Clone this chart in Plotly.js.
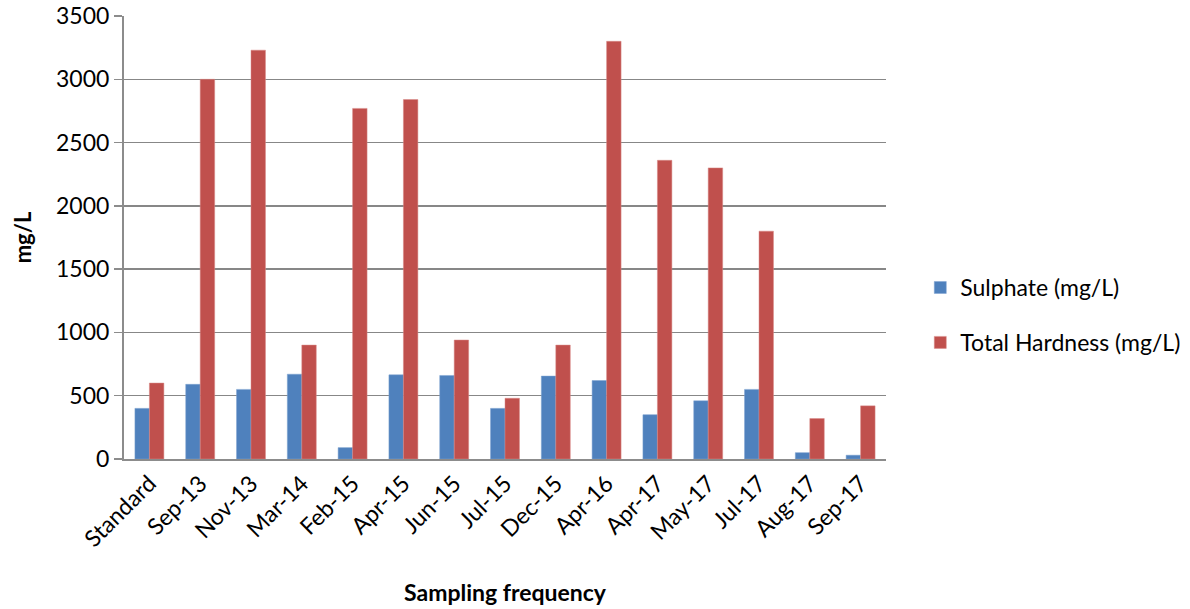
<!DOCTYPE html>
<html>
<head>
<meta charset="utf-8">
<script src="https://cdn.plot.ly/plotly-3.0.1.min.js"></script>
<style>html,body{margin:0;padding:0;background:#fff;}#chart{width:1190px;height:609px;}</style>
</head>
<body>
<div id="chart"></div>
<script>
var categories = ["Standard","Sep-13","Nov-13","Mar-14","Feb-15","Apr-15","Jun-15","Jul-15","Dec-15","Apr-16","Apr-17","May-17","Jul-17","Aug-17","Sep-17"];
var sulphate = [400, 590, 550, 670, 90, 665, 660, 400, 655, 620, 350, 460, 550, 50, 30];
var hardness = [600, 3000, 3230, 900, 2770, 2840, 940, 480, 900, 3300, 2360, 2300, 1800, 320, 420];
var yTicks = [0, 500, 1000, 1500, 2000, 2500, 3000, 3500];

var fontFam = "Lato, 'Open Sans', sans-serif";
var traces = [
  {type: "bar", name: "Sulphate (mg/L)", x: categories, y: sulphate, legendgroup: "a",
   marker: {color: "#4F81BD", line: {color: "#7FA3D1", width: 0.5}}},
  {type: "bar", name: "Total Hardness (mg/L)", x: categories, y: hardness, legendgroup: "b",
   marker: {color: "#C0504D", line: {color: "#D88A88", width: 0.5}}}
];
var layout = {
  width: 1190, height: 609,
  margin: {l: 124, r: 304, t: 16, b: 150, autoexpand: false},
  paper_bgcolor: "#ffffff", plot_bgcolor: "#ffffff",
  barmode: "group", bargap: 0.43, bargroupgap: 0,
  font: {family: fontFam, color: "#000", size: 23},
  xaxis: {
    type: "category", tickangle: -45, tickfont: {size: 23, family: fontFam},
    showline: true, linecolor: "#8c8c8c", linewidth: 2, ticks: "", showgrid: false,
    title: {text: "<b>Sampling frequency</b>", font: {size: 23, family: fontFam}, standoff: 34}
  },
  yaxis: {
    range: [0, 3500], tickvals: yTicks, ticktext: yTicks.map(String),
    tickfont: {size: 23, family: fontFam},
    showgrid: true, gridcolor: "#878787", gridwidth: 1.5,
    showline: true, linecolor: "#8c8c8c", linewidth: 2,
    ticks: "outside", ticklen: 8, tickcolor: "#8c8c8c", tickwidth: 1.5,
    zeroline: false,
    title: {text: "<b>mg/L</b>", font: {size: 22, family: fontFam}, standoff: 18}
  },
  legend: {
    x: 1.045, y: 0.325, xanchor: "left", yanchor: "middle",
    font: {size: 23, family: fontFam}, traceorder: "grouped", tracegroupgap: 22,
    itemwidth: 30, bgcolor: "rgba(0,0,0,0)"
  },
  showlegend: true
};
Plotly.newPlot("chart", traces, layout, {displayModeBar: false, staticPlot: true});
</script>
</body>
</html>
